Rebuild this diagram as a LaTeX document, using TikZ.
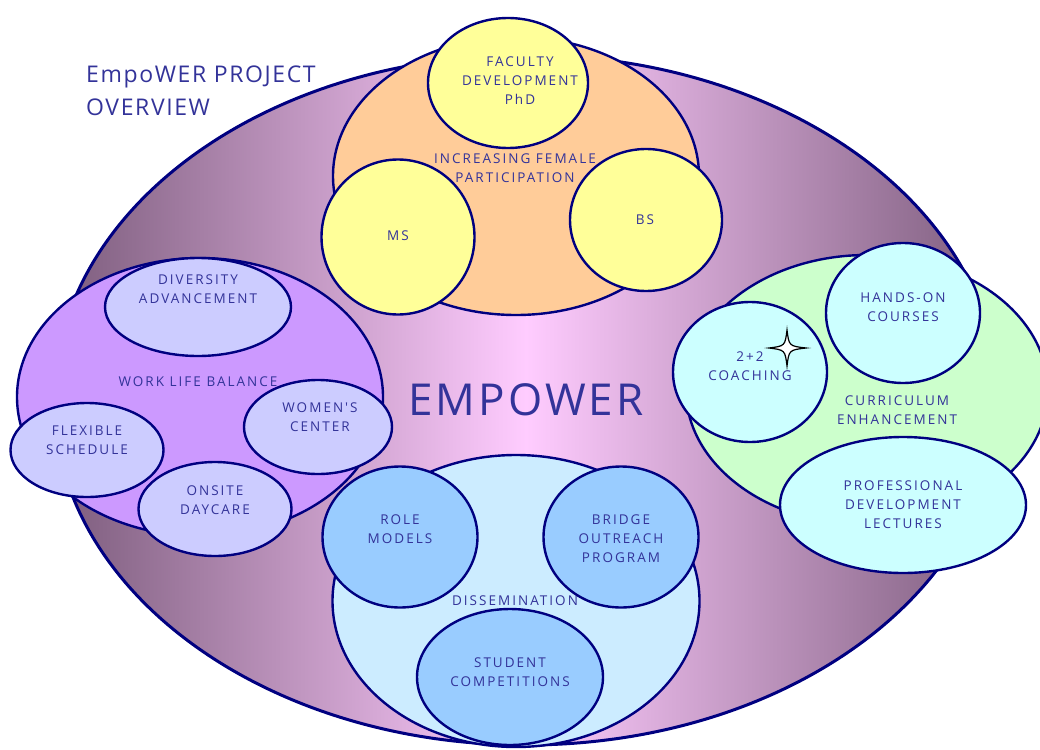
\documentclass[tikz,border=0pt]{standalone}
\usepackage{fontspec}
\setmainfont[LetterSpace=7]{Open Sans}
\newfontfamily\spaced[LetterSpace=15]{Open Sans}
\usetikzlibrary{shapes.geometric}

\definecolor{rim}{RGB}{0,0,128}
\definecolor{ink}{RGB}{51,51,153}
\definecolor{mauve}{RGB}{124,92,124}
\definecolor{blush}{RGB}{255,204,255}
\definecolor{peach}{RGB}{255,204,153}
\definecolor{lemon}{RGB}{255,255,153}
\definecolor{lilac}{RGB}{204,153,255}
\definecolor{lavender}{RGB}{204,204,255}
\definecolor{mint}{RGB}{204,255,204}
\definecolor{aqua}{RGB}{204,255,255}
\definecolor{sky}{RGB}{204,236,255}
\definecolor{cornflower}{RGB}{153,204,255}

\begin{document}
\begin{tikzpicture}[x=1pt, y=-1pt,
  font=\spaced\fontsize{13.5}{19}\selectfont,
  bub/.style={ellipse, draw=rim, line width=2.4pt, inner sep=0pt},
  zone/.style={bub, minimum width=366, minimum height=278},
  lbl/.style={text=ink, align=center, inner sep=0pt}
]
\useasboundingbox (0,0) rectangle (1040,749);
\clip (0,0) rectangle (1040,749);

% ---- outer frame ----
\node[bub, line width=3pt, minimum width=944, minimum height=690,
  left color=mauve, right color=mauve, middle color=blush,
  text=ink, font=\rmfamily\fontsize{44}{44}\selectfont] (empower) at (526,400) {EMPOWER};

\node[lbl, anchor=north west, align=left, font=\rmfamily\fontsize{23}{33}\selectfont]
  (title) at (86,66) {EmpoWER PROJECT\\OVERVIEW};

% ---- increasing female participation ----
\node[zone, fill=peach] (female) at (516,176) {};
\node[lbl] (femaletxt) at (515,168) {INCREASING FEMALE\\PARTICIPATION};
\node[bub, fill=lemon, minimum width=160, minimum height=130] (phd) at (508,83) {};
\node[lbl] (phdtxt) at (520,81) {FACULTY\\DEVELOPMENT\\PhD};
\node[bub, fill=lemon, minimum width=153, minimum height=155] (ms) at (398,237) {};
\node[lbl] (mstxt) at (398,236) {MS};
\node[bub, fill=lemon, minimum width=152, minimum height=142] (bs) at (646,220) {};
\node[lbl] (bstxt) at (645,220) {BS};

% ---- work life balance ----
\node[zone, fill=lilac] (worklife) at (200,397) {};
\node[lbl] (worklifetxt) at (198,382) {WORK LIFE BALANCE};
\node[bub, fill=lavender, minimum width=186, minimum height=98] (diversity) at (198,307) {};
\node[lbl] (diversitytxt) at (198,289) {DIVERSITY\\ADVANCEMENT};
\node[bub, fill=lavender, minimum width=148, minimum height=94] (women) at (318,427) {};
\node[lbl] (womentxt) at (320,417) {WOMEN'S\\CENTER};
\node[bub, fill=lavender, minimum width=153, minimum height=94] (flexible) at (87,450) {};
\node[lbl] (flexibletxt) at (87,440) {FLEXIBLE\\SCHEDULE};
\node[bub, fill=lavender, minimum width=153, minimum height=94] (daycare) at (215,509) {};
\node[lbl] (daycaretxt) at (215,500) {ONSITE\\DAYCARE};

% ---- curriculum enhancement ----
\node[zone, fill=mint, minimum width=362, minimum height=270] (curriculum) at (867,390) {};
\node[lbl] (curriculumtxt) at (897,410) {CURRICULUM\\ENHANCEMENT};
\node[bub, fill=aqua, minimum width=154, minimum height=140] (handson) at (903,313) {};
\node[lbl] (handsontxt) at (903,307) {HANDS-ON\\COURSES};
\node[bub, fill=aqua, minimum width=154, minimum height=140] (coaching) at (750,372) {};
\node[lbl] (coachingtxt) at (750,366) {2+2\\COACHING};
\node[bub, fill=aqua, minimum width=246, minimum height=136] (lectures) at (903,505) {};
\node[lbl] (lecturestxt) at (903,505) {PROFESSIONAL\\DEVELOPMENT\\LECTURES};

% sparkle on the coaching bubble
\draw[black, fill=white, line width=1.2pt]
  (787,330) .. controls (789,346) .. (806,348)
  .. controls (789,350) .. (787,366)
  .. controls (785,350) .. (769,348)
  .. controls (785,346) .. (787,330) -- cycle;

% ---- dissemination ----
\node[zone, fill=sky, minimum width=367, minimum height=292] (dissemination) at (516,601) {};
\node[lbl] (disseminationtxt) at (515,601) {DISSEMINATION};
\node[bub, fill=cornflower, minimum width=155, minimum height=141] (role) at (400,537) {};
\node[lbl] (roletxt) at (400,529) {ROLE\\MODELS};
\node[bub, fill=cornflower, minimum width=155, minimum height=141] (bridge) at (621,537) {};
\node[lbl] (bridgetxt) at (621,539) {BRIDGE\\OUTREACH\\PROGRAM};
\node[bub, fill=cornflower, minimum width=186, minimum height=136] (student) at (510,677) {};
\node[lbl] (studenttxt) at (510,672) {STUDENT\\COMPETITIONS};

\end{tikzpicture}
\end{document}
